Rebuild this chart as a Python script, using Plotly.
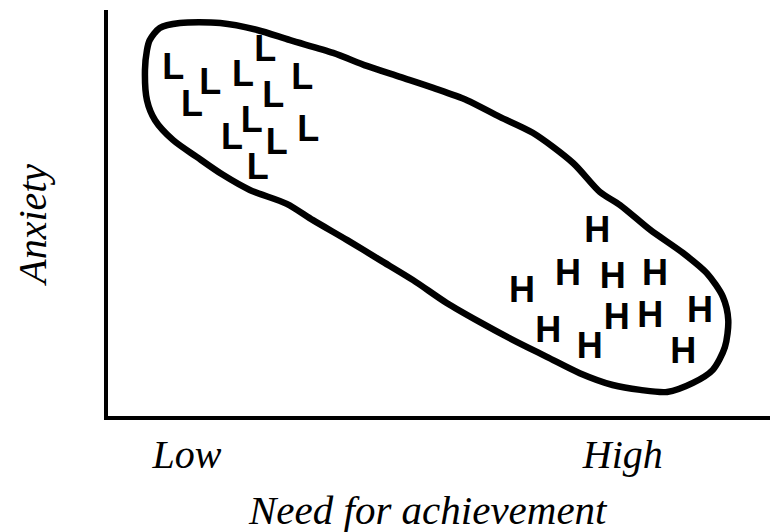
import plotly.graph_objects as go

# Data (scale 0-100 on both axes)
low_x = [10.0, 15.5, 20.4, 23.7, 29.2, 24.9, 12.8, 21.7, 30.1, 18.75, 25.4, 22.6]
low_y = [85.3, 81.6, 83.6, 89.7, 82.8, 78.4, 76.2, 72.3, 70.1, 68.1, 66.9, 60.8]

high_x = [73.1, 68.75, 75.4, 81.7, 61.9, 76.0, 81.0, 88.4, 65.8, 72.0, 85.9]
high_y = [45.3, 34.8, 34.1, 34.8, 30.6, 24.0, 24.5, 25.7, 20.8, 16.9, 15.7]

blob_x = [6.5, 8.0, 11.0, 17.0, 22.5, 27.4, 33.8, 38.8, 43.75, 48.7, 53.7, 58.6, 63.5,
          69.5, 73.5, 76.5, 81.0, 85.9, 89.4, 91.8, 92.6, 92.1, 90.3, 87.35, 83.5,
          79.5, 75.4, 70.5, 65.6, 60.6, 55.65, 50.7, 45.7, 40.8, 35.9, 30.8, 26.9, 21.4,
          17.4, 13.5, 10.0, 7.3, 6.1, 5.8, 6.1, 6.5]
blob_y = [92.6, 95.6, 96.8, 96.8, 95.1, 92.6, 89.5, 86.3, 83.6, 80.9, 77.9, 73.8, 69.9,
          62.5, 55.4, 52.2, 46.1, 40.4, 35.5, 29.7, 24.0, 17.4, 11.8, 8.6, 6.4,
          6.9, 8.1, 11.0, 15.0, 19.1, 23.5, 28.2, 33.8, 38.7, 43.6, 48.5, 52.5, 55.9,
          59.6, 64.0, 68.1, 73.0, 77.9, 85.3, 90.2, 92.6]

x_tick_vals = [12.05, 76.9]
x_tick_text = ["Low", "High"]
x_title = "Need for achievement"
y_title = "Anxiety"

fig = go.Figure()

fig.add_trace(go.Scatter(
    x=blob_x, y=blob_y, mode="lines",
    line=dict(color="black", width=6.5, shape="spline", smoothing=0.8),
    hoverinfo="skip", showlegend=False))

letter_font = dict(family="Liberation Sans", size=36, color="black", weight="bold")

fig.add_trace(go.Scatter(
    x=low_x, y=low_y, mode="text", text=["L"] * len(low_x),
    textposition="middle center", textfont=letter_font, showlegend=False))

fig.add_trace(go.Scatter(
    x=high_x, y=high_y, mode="text", text=["H"] * len(high_x),
    textposition="middle center", textfont=letter_font, showlegend=False))

serif = dict(family="Liberation Serif", size=40, color="black", style="italic")
title_font = dict(family="Liberation Serif", size=41, color="black", style="italic")

fig.update_layout(
    width=770, height=524,
    margin=dict(l=100, r=0, t=2, b=116, pad=0),
    paper_bgcolor="white", plot_bgcolor="white",
    xaxis=dict(range=[0.3, 100], showgrid=False, zeroline=False,
               showline=True, linewidth=4, linecolor="black",
               tickmode="array", tickvals=x_tick_vals, ticktext=x_tick_text,
               ticks="", tickfont=serif, ticklabelstandoff=0, fixedrange=True),
    yaxis=dict(range=[0.5, 100], showgrid=False, zeroline=False,
               showline=True, linewidth=4, linecolor="black",
               showticklabels=False, ticks="", fixedrange=True),
    annotations=[
        dict(text=x_title, xref="paper", yref="paper", x=0.4776, y=-0.2315,
             xanchor="center", yanchor="middle", showarrow=False, font=title_font),
        dict(text=y_title, xref="paper", yref="paper", x=-0.1125, y=0.470,
             xanchor="center", yanchor="middle", showarrow=False, font=serif,
             textangle=-90),
    ],
)

fig.write_html("out.html")
